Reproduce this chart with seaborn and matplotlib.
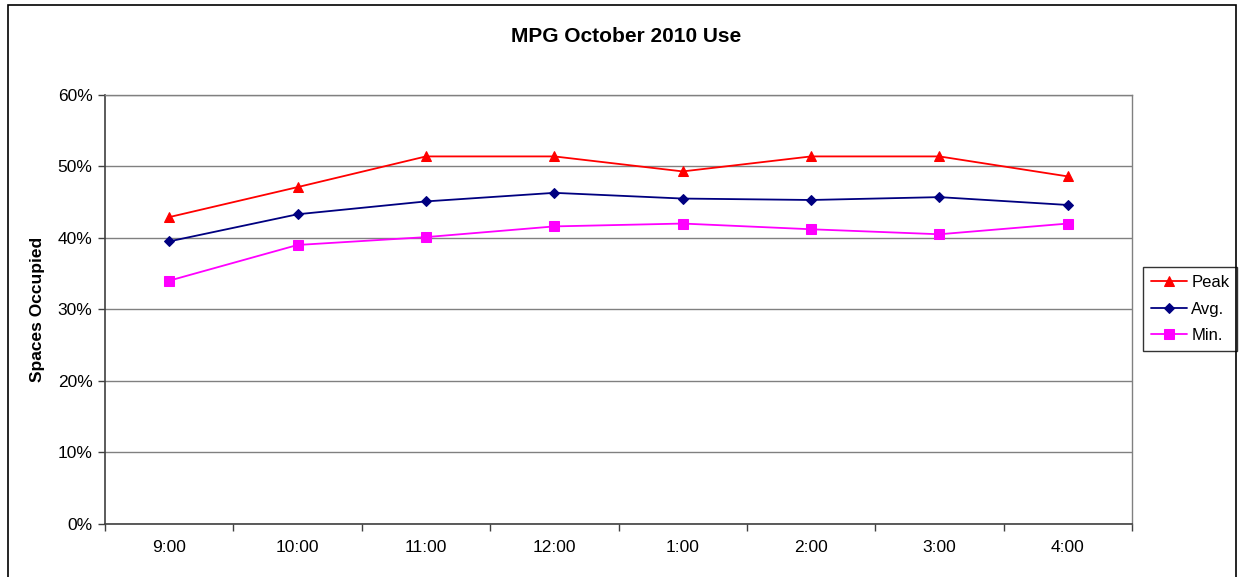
import matplotlib
matplotlib.use("Agg")
import matplotlib.pyplot as plt
import matplotlib.patches as mpatches
from matplotlib.ticker import FixedLocator, PercentFormatter, NullFormatter
import seaborn as sns
import pandas as pd

times = ["9:00", "10:00", "11:00", "12:00", "1:00", "2:00", "3:00", "4:00"]
peak = [0.429, 0.471, 0.514, 0.514, 0.493, 0.514, 0.514, 0.486]
avg = [0.395, 0.433, 0.451, 0.463, 0.455, 0.453, 0.457, 0.446]
minimum = [0.340, 0.390, 0.401, 0.416, 0.420, 0.412, 0.405, 0.420]
series_names = ["Peak", "Avg.", "Min."]

rows = []
for name, vals in zip(series_names, [peak, avg, minimum]):
    for i, (t, v) in enumerate(zip(times, vals)):
        rows.append({"pos": i, "time": t, "series": name, "value": v})
df = pd.DataFrame(rows)

sns.set_style("white")
plt.rcParams["font.family"] = ["Liberation Sans", "DejaVu Sans"]
plt.rcParams["text.color"] = "black"
plt.rcParams["axes.labelcolor"] = "black"
plt.rcParams["xtick.color"] = "black"
plt.rcParams["ytick.color"] = "black"

fig = plt.figure(figsize=(12.39, 5.77), dpi=100)
ax = fig.add_axes([105 / 1239, 1 - 523.5 / 577, (1132 - 105) / 1239, (523.5 - 95) / 577])

palette = {"Peak": "#FF0000", "Avg.": "#000080", "Min.": "#FF00FF"}
markers = {"Peak": "^", "Avg.": "D", "Min.": "s"}
sizes = {"Peak": 7.5, "Avg.": 5.5, "Min.": 6.5}

for name in series_names:
    sub = df[df["series"] == name]
    sns.lineplot(data=sub, x="pos", y="value", ax=ax, color=palette[name],
                 marker=markers[name], markersize=sizes[name],
                 markeredgecolor=palette[name], linewidth=1.3, label=name)

ax.set_xlim(-0.5, len(times) - 0.5)
ax.set_ylim(0, 0.6)
ax.yaxis.set_major_locator(FixedLocator([i / 10 for i in range(7)]))
ax.yaxis.set_major_formatter(PercentFormatter(1.0, decimals=0))

# category boundaries carry the tick marks, labels sit at the centres
ax.xaxis.set_major_locator(FixedLocator([i - 0.5 for i in range(len(times) + 1)]))
ax.xaxis.set_major_formatter(NullFormatter())
ax.xaxis.set_minor_locator(FixedLocator(list(range(len(times)))))
ax.set_xticklabels(times, minor=True)
ax.tick_params(axis="x", which="major", direction="out", length=5, width=1, color="#404040")
ax.tick_params(axis="x", which="minor", length=0, pad=12, labelsize=12.5, labelcolor="black")
ax.tick_params(axis="y", direction="out", length=5, width=1, color="#404040",
               labelsize=12.5, pad=4, labelcolor="black")
ax.tick_params(left=True, bottom=True)

ax.grid(axis="y", color="#808080", linewidth=1)
ax.grid(axis="x", visible=False)
for side in ["top", "right"]:
    ax.spines[side].set_color("#808080")
    ax.spines[side].set_linewidth(1)
for side in ["left", "bottom"]:
    ax.spines[side].set_color("#404040")
    ax.spines[side].set_linewidth(1.2)

ax.set_xlabel("")
ax.set_ylabel("")
fig.text(38 / 1239, 1 - 309 / 577, "Spaces Occupied", rotation=90,
         ha="center", va="center", fontsize=12.5, fontweight="bold", color="black")
fig.text(626 / 1239, 1 - 37 / 577, "MPG October 2010 Use",
         ha="center", va="center", fontsize=15, fontweight="bold", color="black")

leg = ax.legend(loc="center left", bbox_to_anchor=(1143 / 1239, 1 - 309 / 577),
                bbox_transform=fig.transFigure, frameon=True, fancybox=False,
                edgecolor="black", fontsize=12, handlelength=2.2,
                handletextpad=0.25, labelspacing=0.7, borderpad=0.45,
                borderaxespad=0)
leg.get_frame().set_linewidth(1)
for t in leg.get_texts():
    t.set_color("black")

# outer chart border
fig.patches.append(mpatches.Rectangle((8 / 1239, -0.01), (1236 - 8) / 1239, 1 - 5 / 577 + 0.01,
                                      transform=fig.transFigure, fill=False,
                                      edgecolor="black", linewidth=1.2))

fig.savefig("out.png", dpi=100)
